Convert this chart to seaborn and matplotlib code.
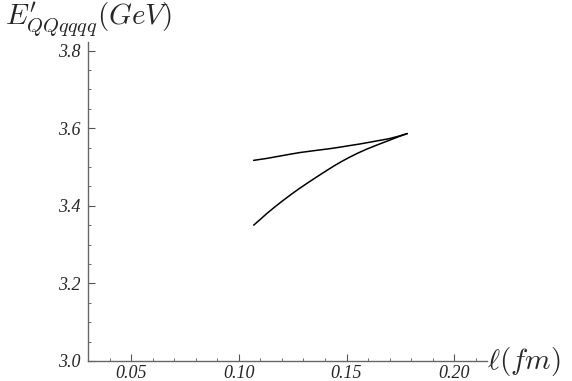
import numpy as np
import pandas as pd
import seaborn as sns
import matplotlib.pyplot as plt
from matplotlib.ticker import MultipleLocator

# branch data
ell_upper = [0.1069, 0.1130, 0.1180, 0.1230, 0.1282, 0.1350, 0.1421, 0.1470,
             0.1514, 0.1560, 0.1610, 0.1650, 0.1699, 0.1740, 0.1782]
e_upper = [3.517, 3.522, 3.527, 3.532, 3.537, 3.542, 3.547, 3.551,
           3.555, 3.559, 3.564, 3.568, 3.573, 3.579, 3.586]

ell_lower = [0.1069, 0.1100, 0.1130, 0.1165, 0.1204, 0.1240, 0.1280, 0.1320, 0.1361,
             0.1400, 0.1440, 0.1477, 0.1514, 0.1550, 0.1590, 0.1630, 0.1667,
             0.1700, 0.1740, 0.1782]
e_lower = [3.350, 3.365, 3.380, 3.396, 3.413, 3.428, 3.444, 3.459, 3.474,
           3.488, 3.502, 3.514, 3.525, 3.535, 3.545, 3.554, 3.562,
           3.569, 3.5776, 3.586]

xticks = [0.05, 0.10, 0.15, 0.20]
yticks = [3.0, 3.2, 3.4, 3.6, 3.8]

sns.set_style("ticks")
plt.rcParams["font.family"] = ["Liberation Serif", "DejaVu Serif"]
plt.rcParams["mathtext.fontset"] = "cm"

df = pd.concat([
    pd.DataFrame({"ell": ell_upper, "E": e_upper, "branch": "upper"}),
    pd.DataFrame({"ell": ell_lower, "E": e_lower, "branch": "lower"}),
])

fig = plt.figure(figsize=(5.72, 3.81), dpi=100)
ax = fig.add_axes([0.1538, 0.0525, 0.851 - 0.1538, 0.8898 - 0.0525])

sns.lineplot(data=df, x="ell", y="E", units="branch", estimator=None, sort=False,
             color="black", linewidth=1.1, ax=ax, legend=False)

ax.set_xlim(0.03, 0.2151)
ax.set_ylim(3.0, 3.822)
ax.set_xticks(xticks)
ax.set_yticks(yticks)
ax.set_xticklabels([f"{v:.2f}" for v in xticks], fontstyle="italic", fontsize=13,
                   fontfamily="Liberation Serif")
ax.set_yticklabels([f"{v:.1f}" for v in yticks], fontstyle="italic", fontsize=13,
                   fontfamily="Liberation Serif")
ax.xaxis.set_minor_locator(MultipleLocator(0.01))
ax.yaxis.set_minor_locator(MultipleLocator(0.05))
ax.tick_params(which="major", direction="in", length=5, width=0.8, color="#555555", pad=5)
ax.tick_params(which="minor", direction="in", length=2.5, width=0.6, color="#555555")
ax.tick_params(axis="x", pad=3)
ax.set_xlabel("")
ax.set_ylabel("")

for side in ["top", "right"]:
    ax.spines[side].set_visible(False)
for side in ["left", "bottom"]:
    ax.spines[side].set_color("#666666")
    ax.spines[side].set_linewidth(1.0)

fig.text(0.008, 0.934, r"$E^{\prime}_{QQqqqq}(GeV)$", fontsize=21, va="baseline", ha="left")
fig.text(0.852, 0.052, r"$\ell(fm)$", fontsize=21, va="center", ha="left")

fig.savefig("out.png", dpi=100)
